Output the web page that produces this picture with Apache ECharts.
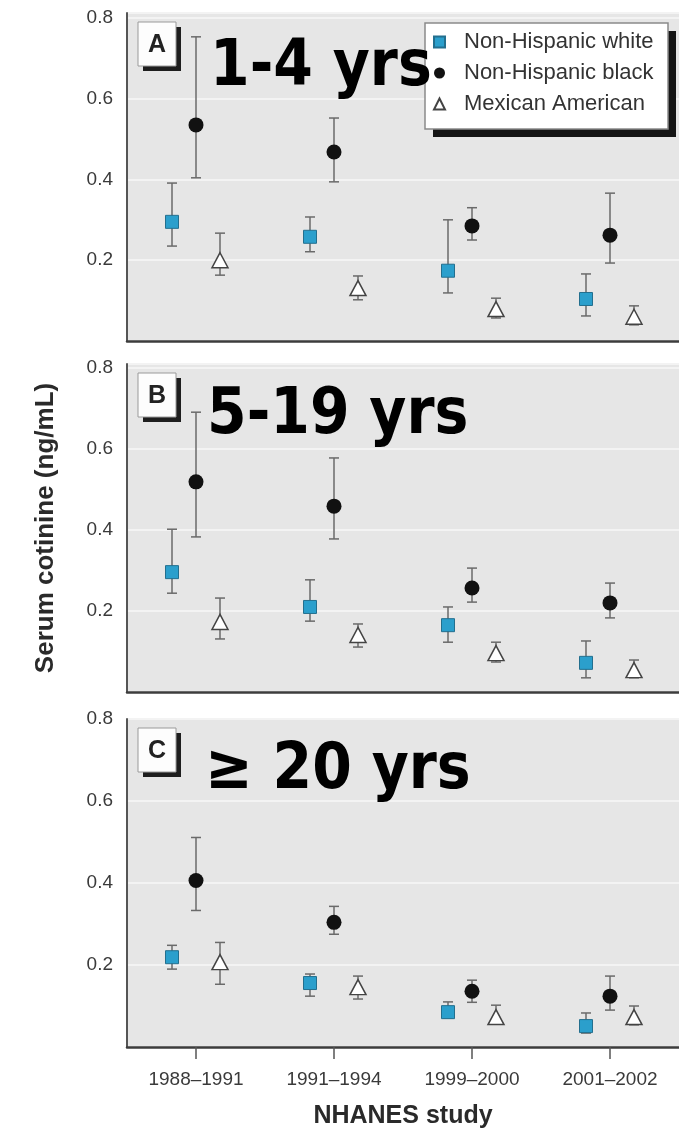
<!DOCTYPE html>
<html><head><meta charset="utf-8">
<script src="https://cdn.jsdelivr.net/npm/echarts@6/dist/echarts.min.js"></script>
<style>html,body{margin:0;padding:0;background:#fff}#c{width:679px;height:1130px}</style>
</head><body><div id="c"></div>
<script>
const periods = ['1988–1991', '1991–1994', '1999–2000', '2001–2002'];
const groups = ['Non-Hispanic white', 'Non-Hispanic black', 'Mexican American'];
const panelLetters = ['A', 'B', 'C'];
const panelTitles = ['1-4 yrs', '5-19 yrs', '≥ 20 yrs'];
const yTickLabels = ['0.2', '0.4', '0.6', '0.8'];
const yAxisTitle = 'Serum cotinine (ng/mL)';
const xAxisTitle = 'NHANES study';

// Panel A: 1-4 yrs
const aWhiteMean = [0.295, 0.258, 0.174, 0.104];
const aWhiteLo   = [0.235, 0.221, 0.119, 0.062];
const aWhiteHi   = [0.391, 0.307, 0.300, 0.166];
const aBlackMean = [0.535, 0.468, 0.285, 0.262];
const aBlackLo   = [0.404, 0.394, 0.250, 0.193];
const aBlackHi   = [0.753, 0.552, 0.330, 0.366];
const aMexMean   = [0.200, 0.131, 0.079, 0.060];
const aMexLo     = [0.163, 0.102, 0.057, 0.040];
const aMexHi     = [0.267, 0.161, 0.106, 0.087];

// Panel B: 5-19 yrs
const bWhiteMean = [0.296, 0.210, 0.165, 0.072];
const bWhiteLo   = [0.244, 0.175, 0.123, 0.035];
const bWhiteHi   = [0.402, 0.277, 0.210, 0.126];
const bBlackMean = [0.519, 0.459, 0.257, 0.220];
const bBlackLo   = [0.383, 0.378, 0.222, 0.183];
const bBlackHi   = [0.691, 0.578, 0.306, 0.269];
const bMexMean   = [0.173, 0.141, 0.096, 0.054];
const bMexLo     = [0.131, 0.111, 0.074, 0.035];
const bMexHi     = [0.232, 0.168, 0.123, 0.079];

// Panel C: >= 20 yrs
const cWhiteMean = [0.219, 0.156, 0.085, 0.051];
const cWhiteLo   = [0.190, 0.124, 0.071, 0.034];
const cWhiteHi   = [0.248, 0.178, 0.110, 0.083];
const cBlackMean = [0.406, 0.304, 0.136, 0.124];
const cBlackLo   = [0.333, 0.275, 0.109, 0.090];
const cBlackHi   = [0.511, 0.343, 0.163, 0.173];
const cMexMean   = [0.207, 0.146, 0.073, 0.073];
const cMexLo     = [0.153, 0.117, 0.058, 0.054];
const cMexHi     = [0.255, 0.173, 0.102, 0.100];

const panels = [
  [[aWhiteMean, aWhiteLo, aWhiteHi], [aBlackMean, aBlackLo, aBlackHi], [aMexMean, aMexLo, aMexHi]],
  [[bWhiteMean, bWhiteLo, bWhiteHi], [bBlackMean, bBlackLo, bBlackHi], [bMexMean, bMexLo, bMexHi]],
  [[cWhiteMean, cWhiteLo, cWhiteHi], [cBlackMean, cBlackLo, cBlackHi], [cMexMean, cMexLo, cMexHi]]
];

// ---- styling / layout ----
const SANS = '"Liberation Sans", Arial, sans-serif';
const gridTops = [13, 364, 719];
const gridHeight = 328;
const yMaxes = [0.812, 0.81, 0.8];
const groupOffsets = [-24, 0, 24];
const groupSymbols = ['rect', 'circle', 'triangle'];
const groupSizes = [13, 15, [16, 15]];
const groupStyles = [
  {color: '#2b9fcc', borderColor: '#236f8e', borderWidth: 1},
  {color: '#111111', borderColor: '#000', borderWidth: 0},
  {color: '#ffffff', borderColor: '#444444', borderWidth: 1.5}
];

const grids = [], xAxes = [], yAxes = [], series = [];
gridTops.forEach((top, p) => {
  grids.push({left: 127, width: 560, top: top, height: gridHeight, show: true,
    backgroundColor: '#e6e6e6', borderWidth: 0});
  const last = p === gridTops.length - 1;
  xAxes.push({type: 'category', gridIndex: p, data: periods, boundaryGap: true,
    axisLine: {show: true, lineStyle: {color: '#3c3c3c', width: 2.5}},
    axisTick: {show: last, alignWithLabel: true, length: 12, lineStyle: {color: '#555', width: 1.5}},
    axisLabel: {show: last, interval: 0, margin: 23, fontSize: 19, fontFamily: SANS, color: '#3a3a3a'},
    name: last ? xAxisTitle : '', nameLocation: 'middle', nameGap: 57,
    nameTextStyle: {fontSize: 25, fontWeight: 'bold', fontFamily: SANS, color: '#2a2a2a'},
    splitLine: {show: false}, z: 3});
  yAxes.push({type: 'value', gridIndex: p, min: 0, max: yMaxes[p], interval: 0.2,
    axisLine: {show: true, lineStyle: {color: '#555', width: 2}},
    axisTick: {show: false},
    axisLabel: {margin: 14, fontSize: 19, fontFamily: SANS, color: '#3a3a3a',
      formatter: v => { const t = yTickLabels.find(s => Math.abs(parseFloat(s) - v) < 1e-6); return t || ''; }},
    splitLine: {show: true, lineStyle: {color: '#f3f3f3', width: 2}},
    name: p === 1 ? yAxisTitle : '', nameLocation: 'middle', nameGap: 68,
    nameTextStyle: {fontSize: 26, fontWeight: 'bold', fontFamily: SANS, color: '#2a2a2a'}});

  panels[p].forEach((g, k) => {
    const [mean, lo, hi] = g;
    const off = groupOffsets[k];
    series.push({
      type: 'custom', name: 'err-' + p + '-' + k, xAxisIndex: p, yAxisIndex: p, z: 2,
      data: periods.map((_, i) => [i, lo[i], hi[i]]),
      encode: {x: 0, y: [1, 2]},
      renderItem: (params, api) => {
        const top = api.coord([api.value(0), api.value(2)]);
        const bot = api.coord([api.value(0), api.value(1)]);
        const cx = top[0] + off;
        const st = {stroke: '#6a6a6a', lineWidth: 1.5};
        return {type: 'group', children: [
          {type: 'line', shape: {x1: cx, y1: top[1], x2: cx, y2: bot[1]}, style: st},
          {type: 'line', shape: {x1: cx - 5, y1: top[1], x2: cx + 5, y2: top[1]}, style: st},
          {type: 'line', shape: {x1: cx - 5, y1: bot[1], x2: cx + 5, y2: bot[1]}, style: st}
        ]};
      }
    });
  });
  panels[p].forEach((g, k) => {
    series.push({
      type: 'scatter', name: groups[k], xAxisIndex: p, yAxisIndex: p, z: 5,
      symbol: groupSymbols[k], symbolSize: groupSizes[k], symbolOffset: [groupOffsets[k], 0],
      itemStyle: Object.assign({opacity: 1}, groupStyles[k]),
      data: g[0]
    });
  });
});

const graphic = [];
const boxTops = [22, 373, 728];
boxTops.forEach((bt, p) => {
  graphic.push({type: 'rect', z: 10, shape: {x: 143, y: bt + 5, width: 38, height: 44}, style: {fill: '#1e1e1e'}});
  graphic.push({type: 'rect', z: 11, shape: {x: 138, y: bt, width: 38, height: 44}, style: {fill: '#fdfdfd', stroke: '#9a9a9a', lineWidth: 1}});
  graphic.push({type: 'text', z: 12, x: 157, y: bt + 23, style: {text: panelLetters[p], fontSize: 25, fontWeight: 'bold',
    fontFamily: SANS, fill: '#222', align: 'center', verticalAlign: 'middle'}});
});
const titlePos = [[210, 68], [207, 416], [205, 771]];
titlePos.forEach((tp, p) => {
  graphic.push({type: 'text', z: 12, x: tp[0], y: tp[1], scaleX: 0.89, style: {text: panelTitles[p], fontSize: 64,
    fontWeight: 'bold', fontFamily: '"DejaVu Sans", Verdana, sans-serif', fill: '#000', align: 'left', verticalAlign: 'middle'}});
});
// legend box
graphic.push({type: 'rect', z: 10, shape: {x: 433, y: 31, width: 243, height: 106}, style: {fill: '#151515'}});
graphic.push({type: 'rect', z: 11, shape: {x: 425, y: 23, width: 243, height: 106}, style: {fill: '#ffffff', stroke: '#8a8a8a', lineWidth: 1.5}});

const option = {
  animation: false,
  backgroundColor: '#ffffff',
  grid: grids, xAxis: xAxes, yAxis: yAxes, series: series, graphic: graphic,
  legend: {data: groups, orient: 'vertical', left: 433, top: 31, itemGap: 9, itemWidth: 11, itemHeight: 11,
    padding: 0, z: 20, selectedMode: false,
    textStyle: {fontSize: 22, fontFamily: SANS, color: '#333', lineHeight: 22, padding: [0, 0, 0, 14]}}
};
const chart = echarts.init(document.getElementById('c'), null, {renderer: 'canvas'});
chart.setOption(option);
</script>
</body></html>
